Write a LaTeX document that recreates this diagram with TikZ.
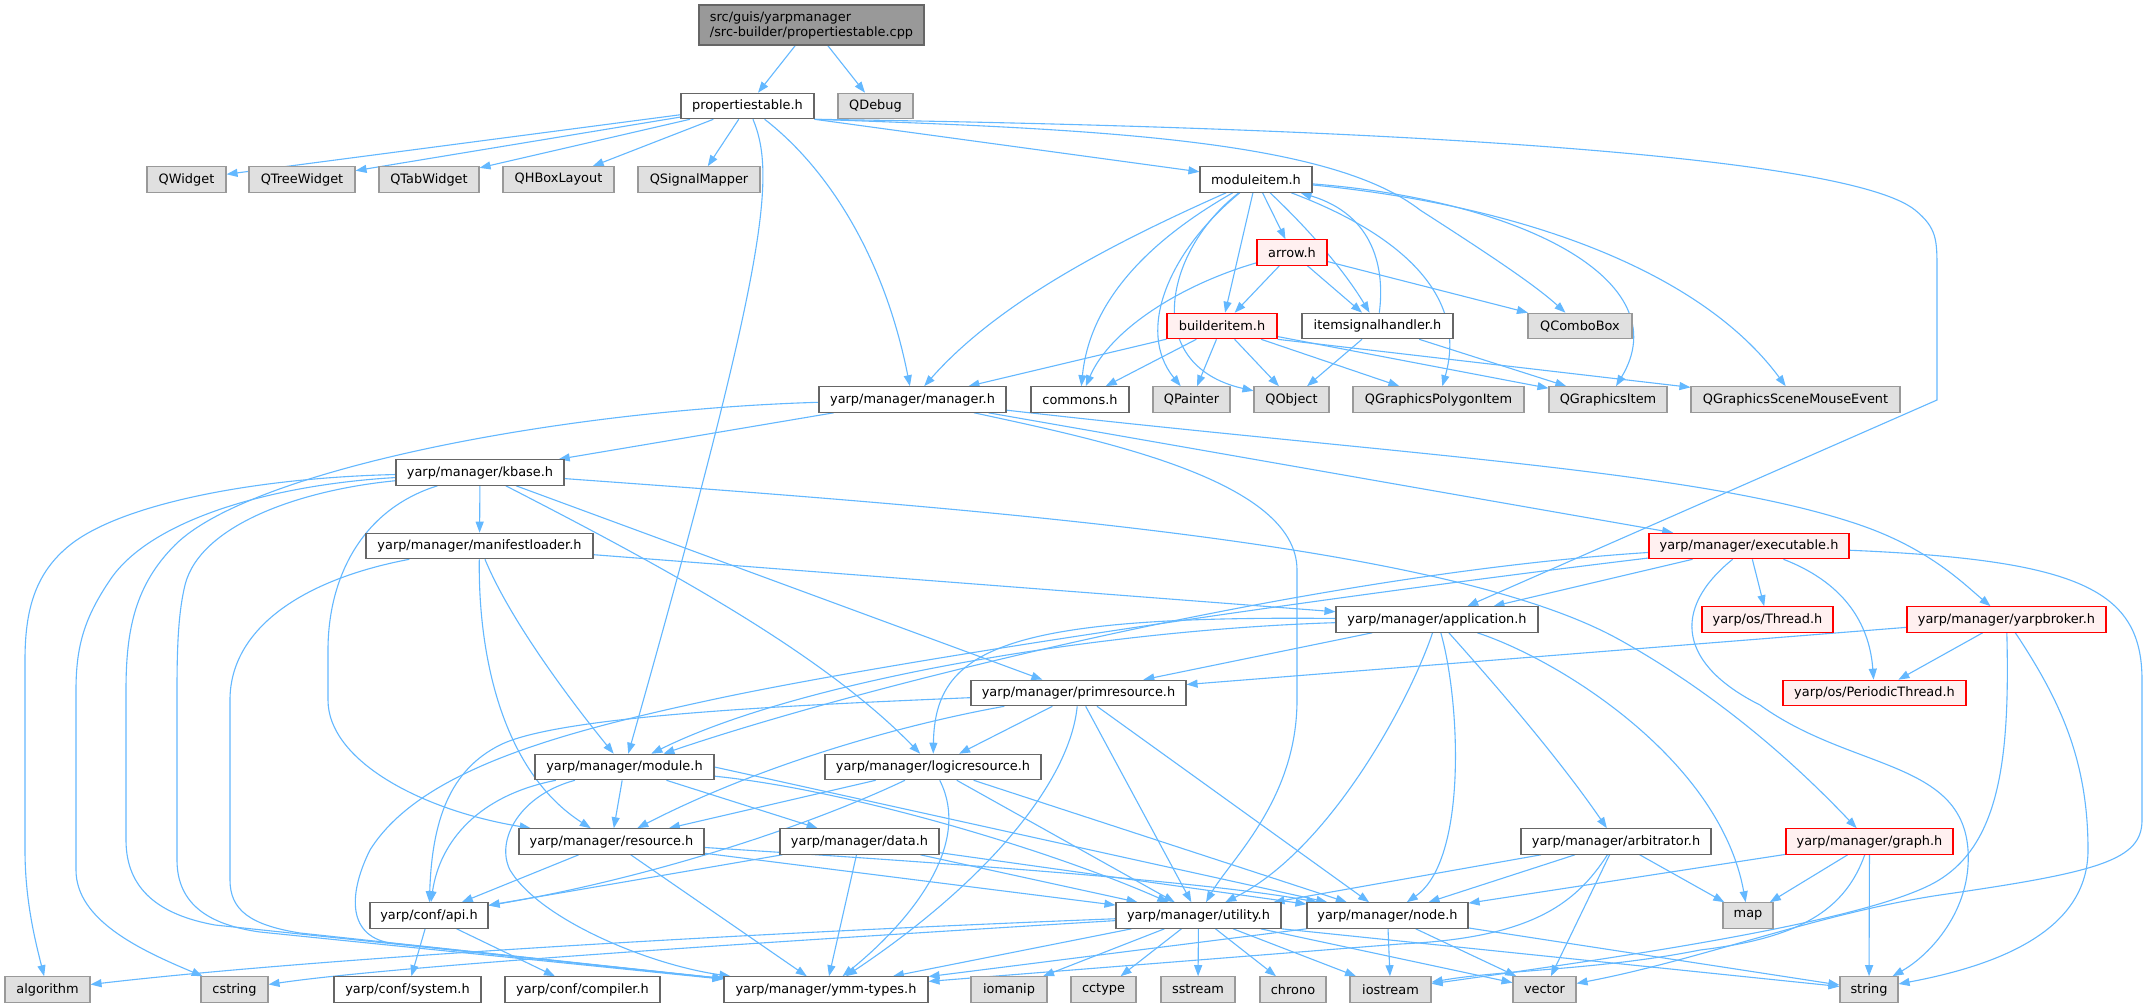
\documentclass[tikz,border=0pt]{standalone}
\usepackage{fontspec}
\setmainfont{DejaVu Sans}
\usetikzlibrary{arrows.meta}
\pgfdeclarelayer{bg}
\pgfsetlayers{bg,main}
\definecolor{eblue}{HTML}{63B8FF}
\definecolor{bwhite}{HTML}{666666}
\definecolor{bgray}{HTML}{999999}
\definecolor{fgray}{HTML}{E0E0E0}
\definecolor{bred}{HTML}{FF0000}
\definecolor{fred}{HTML}{FFF0F0}
\definecolor{ftop}{HTML}{999999}
\tikzset{
  box/.style={rectangle, inner sep=0pt, minimum height=25.5pt, line width=1.1pt,
              font=\fontsize{12.9}{15}\selectfont, text=black},
  wn/.style={box, draw=bwhite, fill=white},
  gn/.style={box, draw=bgray, fill=fgray},
  rn/.style={box, draw=bred, fill=fred},
  tn/.style={box, draw=bwhite, fill=ftop},
  e/.style={draw=eblue, line width=1.1pt, -{Triangle[length=11pt,width=8pt]}},
}
\begin{document}
\begin{tikzpicture}[x=1pt,y=-1pt]
\useasboundingbox (0,0) rectangle (2149,1004);
% ---- nodes ----
\node[tn, minimum width=225pt, minimum height=40pt, align=left] (top) at (811.5,25) {src/guis/yarpmanager\\/src-builder/propertiestable.cpp};
\node[wn, minimum width=133pt] (pth) at (747.5,106) {propertiestable.h};
\node[gn, minimum width=75pt] (qdebug) at (875.5,106) {QDebug};
\node[gn, minimum width=79pt] (qwidget) at (186.5,179.5) {QWidget};
\node[gn, minimum width=106pt] (qtree) at (302,179.5) {QTreeWidget};
\node[gn, minimum width=100pt] (qtab) at (429,179.5) {QTabWidget};
\node[gn, minimum width=111pt] (qhbox) at (558.5,179.5) {QHBoxLayout};
\node[gn, minimum width=122pt] (qsig) at (699,179.5) {QSignalMapper};
\node[wn, minimum width=112pt] (moditem) at (1256,179.5) {moduleitem.h};
\node[rn, minimum width=70pt] (arrowh) at (1292,252.5) {arrow.h};
\node[rn, minimum width=110pt] (builder) at (1222,326) {builderitem.h};
\node[wn, minimum width=151pt] (itemsig) at (1377.5,326) {itemsignalhandler.h};
\node[gn, minimum width=104pt] (qcombo) at (1580,326) {QComboBox};
\node[wn, minimum width=187pt] (manager) at (912.5,399.5) {yarp/manager/manager.h};
\node[wn, minimum width=98pt] (commons) at (1080,399.5) {commons.h};
\node[gn, minimum width=77pt] (qpainter) at (1191.5,399.5) {QPainter};
\node[gn, minimum width=75pt] (qobject) at (1291.5,399.5) {QObject};
\node[gn, minimum width=171pt] (qpoly) at (1438.5,399.5) {QGraphicsPolygonItem};
\node[gn, minimum width=118pt] (qgitem) at (1608,399.5) {QGraphicsItem};
\node[gn, minimum width=209pt] (qgscene) at (1795.5,399.5) {QGraphicsSceneMouseEvent};
\node[wn, minimum width=168pt] (kbase) at (480,472.5) {yarp/manager/kbase.h};
\node[wn, minimum width=227pt] (manifest) at (479.5,546) {yarp/manager/manifestloader.h};
\node[rn, minimum width=200pt] (exec) at (1749,546) {yarp/manager/executable.h};
\node[wn, minimum width=202pt] (app) at (1437,619.5) {yarp/manager/application.h};
\node[rn, minimum width=131pt] (thread) at (1767.5,619.5) {yarp/os/Thread.h};
\node[rn, minimum width=199pt] (broker) at (2006.5,619.5) {yarp/manager/yarpbroker.h};
\node[wn, minimum width=215pt] (prim) at (1078.5,693) {yarp/manager/primresource.h};
\node[rn, minimum width=183pt] (pthread) at (1874.5,693) {yarp/os/PeriodicThread.h};
\node[wn, minimum width=179pt] (module) at (624.5,767) {yarp/manager/module.h};
\node[wn, minimum width=216pt] (logic) at (933,767) {yarp/manager/logicresource.h};
\node[wn, minimum width=185pt] (resource) at (611.5,841.5) {yarp/manager/resource.h};
\node[wn, minimum width=159pt] (data) at (859.5,841.5) {yarp/manager/data.h};
\node[wn, minimum width=190pt] (arbit) at (1616,841.5) {yarp/manager/arbitrator.h};
\node[rn, minimum width=167pt] (graph) at (1869.5,841.5) {yarp/manager/graph.h};
\node[wn, minimum width=118pt] (api) at (429,915.5) {yarp/conf/api.h};
\node[wn, minimum width=165pt] (utility) at (1198.5,915.5) {yarp/manager/utility.h};
\node[wn, minimum width=161pt] (nodeh) at (1387.5,915.5) {yarp/manager/node.h};
\node[gn, minimum width=50pt] (map) at (1748,915.5) {map};
\node[gn, minimum width=85pt] (algorithm) at (47.5,989.5) {algorithm};
\node[gn, minimum width=67pt] (cstring) at (234.5,989.5) {cstring};
\node[wn, minimum width=147pt] (system) at (407.5,989.5) {yarp/conf/system.h};
\node[wn, minimum width=155pt] (compiler) at (582.5,989.5) {yarp/conf/compiler.h};
\node[wn, minimum width=204pt] (ymm) at (826,989.5) {yarp/manager/ymm-types.h};
\node[gn, minimum width=76pt] (iomanip) at (1009,989.5) {iomanip};
\node[gn, minimum width=65pt] (cctype) at (1103.5,989.5) {cctype};
\node[gn, minimum width=74pt] (sstream) at (1198,989.5) {sstream};
\node[gn, minimum width=66pt] (chrono) at (1293,989.5) {chrono};
\node[gn, minimum width=81pt] (iostream) at (1390.5,989.5) {iostream};
\node[gn, minimum width=63pt] (vector) at (1544.5,989.5) {vector};
\node[gn, minimum width=58pt] (string) at (1869,989.5) {string};
% ---- edges ----
\begin{pgfonlayer}{bg}
\fill[white] (0,0) rectangle (2149,1004);
\draw[e] (top) -- (pth);
\draw[e] (top) -- (qdebug);
% propertiestable.h
\draw[e] (pth) -- (qwidget);
\draw[e] (pth) -- (qtree);
\draw[e] (pth) -- (qtab);
\draw[e] (pth) -- (qhbox);
\draw[e] (pth) -- (qsig);
\draw[e] (pth) .. controls (776,175) and (768,260) .. (module);
\draw[e] (pth) .. controls (830,170) and (885,260) .. (manager);
\draw[e] (pth.south east) -- (moditem);
\draw[e] (pth.south east) .. controls (1100,129) and (1330,140) .. (1420,210) .. controls (1490,255) and (1535,285) .. (qcombo);
\draw[e] (pth.south east) .. controls (1300,126) and (1840,150) .. (1915,210) .. controls (1937,228) and (1937,240) .. (1937,270) -- (1937,400) -- (app);
% moduleitem.h
\draw[e] (moditem) .. controls (1120,240) and (1000,300) .. (manager);
\draw[e] (moditem) .. controls (1150,240) and (1090,300) .. (commons);
\draw[e] (moditem) .. controls (1170,250) and (1135,330) .. (qpainter);
\draw[e] (moditem) .. controls (1165,250) and (1140,365) .. (qobject);
\draw[e] (moditem) -- (builder);
\draw[e] (moditem) -- (arrowh);
\draw[e] (moditem) .. controls (1320,240) and (1350,280) .. (itemsig);
\draw[e] (itemsig) .. controls (1385,270) and (1375,215) .. (moditem);
\draw[e] (moditem) .. controls (1390,230) and (1470,290) .. (qpoly);
\draw[e] (moditem) .. controls (1520,200) and (1680,280) .. (qgitem);
\draw[e] (moditem) .. controls (1520,205) and (1700,270) .. (qgscene);
% arrow.h
\draw[e] (arrowh) -- (builder);
\draw[e] (arrowh) -- (itemsig);
\draw[e] (arrowh) .. controls (1180,285) and (1110,330) .. (commons);
\draw[e] (arrowh) -- (qcombo);
% builderitem.h
\draw[e] (builder) -- (manager);
\draw[e] (builder) -- (commons);
\draw[e] (builder) -- (qpainter);
\draw[e] (builder) -- (qobject);
\draw[e] (builder) -- (qpoly);
\draw[e] (builder) -- (qgitem);
\draw[e] (builder.south east) -- (qgscene);
% itemsignalhandler.h
\draw[e] (itemsig) -- (qobject);
\draw[e] (itemsig) -- (qgitem);
% manager.h
\draw[e] (manager) -- (kbase);
\draw[e] (manager) .. controls (560,410) and (250,470) .. (175,545) .. controls (135,585) and (126,630) .. (126,690) -- (126,840) .. controls (126,890) and (160,915) .. (215,925) -- (ymm);
\draw[e] (manager) .. controls (1100,440) and (1297,480) .. (1297,570) -- (1297,700) .. controls (1297,800) and (1230,860) .. (utility);
\draw[e] (manager) -- (exec);
\draw[e] (manager) .. controls (1400,455) and (1700,470) .. (1860,525) .. controls (1930,549) and (1965,585) .. (broker);
% kbase.h
\draw[e] (kbase) -- (manifest);
\draw[e] (kbase) .. controls (250,478) and (120,505) .. (70,545) .. controls (35,573) and (25,610) .. (25,660) -- (25,850) .. controls (25,900) and (35,940) .. (algorithm);
\draw[e] (kbase) .. controls (270,485) and (150,520) .. (110,580) .. controls (85,617) and (76,645) .. (76,690) -- (76,870) .. controls (76,920) and (140,950) .. (cstring);
\draw[e] (kbase) .. controls (300,490) and (200,525) .. (185,585) .. controls (179,610) and (177,640) .. (177,690) -- (177,860) .. controls (177,905) and (210,925) .. (260,932) -- (ymm);
\draw[e] (kbase) .. controls (360,510) and (328,580) .. (328,650) -- (328,700) .. controls (328,760) and (420,810) .. (resource);
\draw[e] (kbase) .. controls (1000,510) and (1450,545) .. (1620,640) .. controls (1740,707) and (1820,790) .. (graph);
\draw[e] (kbase) .. controls (650,560) and (820,650) .. (logic);
\draw[e] (kbase) -- (prim);
% manifestloader.h
\draw[e] (manifest) -- (app);
\draw[e] (manifest) .. controls (510,620) and (570,700) .. (module);
\draw[e] (manifest) .. controls (478,650) and (500,770) .. (resource);
\draw[e] (manifest) .. controls (300,580) and (230,630) .. (230,700) -- (230,880) .. controls (230,910) and (250,925) .. (300,933) -- (ymm);
% executable.h
\draw[e] (exec) -- (app);
\draw[e] (exec) -- (thread);
\draw[e] (exec) .. controls (1850,585) and (1870,630) .. (pthread);
\draw[e] (exec) .. controls (1670,610) and (1680,665) .. (1760,705) .. controls (1850,770) and (1962,760) .. (1968,850) .. controls (1972,910) and (1930,955) .. (string);
\draw[e] (exec) .. controls (2080,560) and (2142,590) .. (2142,680) -- (2142,820) .. controls (2142,860) and (2100,872) .. (1940,895) .. controls (1820,913) and (1700,960) .. (vector);
\draw[e] (exec) .. controls (1300,575) and (850,690) .. (module);
\draw[e] (exec) .. controls (1300,600) and (900,660) .. (720,698) .. controls (560,732) and (420,770) .. (370,850) .. controls (350,890) and (345,935) .. (390,943) -- (ymm);
% application.h
\draw[e] (app) .. controls (1100,630) and (800,680) .. (module);
\draw[e] (app) .. controls (1000,615) and (935,650) .. (logic);
\draw[e] (app) -- (prim);
\draw[e] (app) .. controls (1410,700) and (1330,850) .. (utility);
\draw[e] (app) .. controls (1460,700) and (1468,860) .. (nodeh);
\draw[e] (app) .. controls (1500,690) and (1560,760) .. (arbit);
\draw[e] (app) .. controls (1560,660) and (1720,760) .. (map);
% yarpbroker.h
\draw[e] (broker) -- (prim);
\draw[e] (broker) -- (pthread);
\draw[e] (broker) .. controls (2010,760) and (2000,850) .. (1930,885) .. controls (1850,925) and (1600,960) .. (iostream);
\draw[e] (broker) .. controls (2060,700) and (2088,760) .. (2088,850) .. controls (2088,930) and (2000,965) .. (string);
% primresource.h
\draw[e] (prim) -- (logic);
\draw[e] (prim) .. controls (1070,780) and (990,880) .. (ymm);
\draw[e] (prim) -- (utility);
\draw[e] (prim) -- (nodeh);
\draw[e] (prim) .. controls (900,725) and (760,765) .. (resource);
\draw[e] (prim) .. controls (800,705) and (560,715) .. (500,745) .. controls (450,770) and (432,820) .. (api);
% logicresource.h
\draw[e] (logic) -- (resource);
\draw[e] (logic) .. controls (800,830) and (640,880) .. (api);
\draw[e] (logic) .. controls (975,850) and (900,930) .. (ymm);
\draw[e] (logic) -- (utility);
\draw[e] (logic) -- (nodeh);
% module.h
\draw[e] (module) -- (resource);
\draw[e] (module) .. controls (480,795) and (440,840) .. (api);
\draw[e] (module) .. controls (520,795) and (495,840) .. (510,870) .. controls (540,920) and (650,965) .. (ymm);
\draw[e] (module) -- (data);
\draw[e] (module) .. controls (850,790) and (1050,850) .. (utility);
\draw[e] (module.east) -- (nodeh);
% resource.h
\draw[e] (resource) -- (api);
\draw[e] (resource) -- (ymm);
\draw[e] (resource) -- (utility);
\draw[e] (resource) .. controls (900,860) and (1200,880) .. (nodeh);
% data.h
\draw[e] (data) -- (api);
\draw[e] (data) -- (ymm);
\draw[e] (data) -- (utility);
\draw[e] (data) -- (nodeh);
% utility.h
\draw[e] (utility) -- (ymm);
\draw[e] (utility) -- (iomanip);
\draw[e] (utility) -- (cctype);
\draw[e] (utility) -- (sstream);
\draw[e] (utility) -- (chrono);
\draw[e] (utility) -- (iostream);
\draw[e] (utility) -- (vector);
\draw[e] (utility.south east) -- (string);
\draw[e] (utility) .. controls (700,935) and (300,960) .. (algorithm);
\draw[e] (utility) .. controls (800,940) and (400,965) .. (cstring);
% node.h
\draw[e] (nodeh.south west) -- (ymm);
\draw[e] (nodeh) -- (iostream);
\draw[e] (nodeh) -- (vector);
\draw[e] (nodeh) -- (string);
% arbitrator.h
\draw[e] (arbit) -- (utility);
\draw[e] (arbit) -- (nodeh);
\draw[e] (arbit) .. controls (1575,905) and (1530,938) .. (1400,944) -- (ymm);
\draw[e] (arbit) -- (vector);
\draw[e] (arbit) -- (map);
% graph.h
\draw[e] (graph) -- (nodeh);
\draw[e] (graph) -- (map);
\draw[e] (graph) -- (string);
\draw[e] (graph) .. controls (1845,910) and (1800,938) .. (1700,950) .. controls (1600,970) and (1500,970) .. (iostream);
% api.h
\draw[e] (api) -- (system);
\draw[e] (api) -- (compiler);
\end{pgfonlayer}
\end{tikzpicture}
\end{document}
